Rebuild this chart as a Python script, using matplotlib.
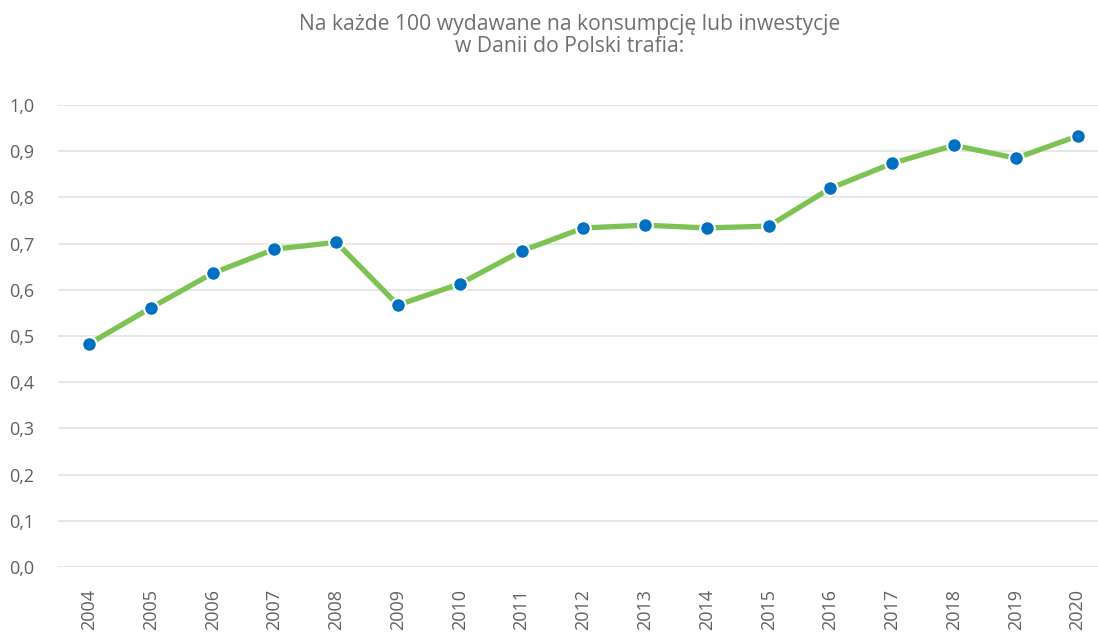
import numpy as np
from matplotlib import pyplot as plt

plt.rcParams['font.family'] = ['Open Sans', 'DejaVu Sans']

years = list(range(2004, 2021))
values = [0.483, 0.561, 0.636, 0.688, 0.703, 0.567, 0.613, 0.684, 0.734,
          0.740, 0.734, 0.738, 0.820, 0.874, 0.913, 0.885, 0.933]
yticks = [0.0, 0.1, 0.2, 0.3, 0.4, 0.5, 0.6, 0.7, 0.8, 0.9, 1.0]
title = "Na każde 100 wydawane na konsumpcję lub inwestycje\nw Danii do Polski trafia:"

grey = '#606060'

fig = plt.figure(figsize=(10.98, 6.37), dpi=100)
ax = fig.add_axes([0.053, 0.11, 0.947, 0.725])

ax.plot(years, values, color='#7DC354', lw=3.8, zorder=2,
        marker='o', ms=10.5, mfc='#0070C0', mec='white', mew=1.5)

ax.set_xlim(2003.5, 2020.33)
ax.set_ylim(0, 1.0)
ax.set_yticks(yticks)
ax.set_yticklabels([f"{v:.1f}".replace('.', ',') for v in yticks])
ax.set_xticks(years)
ax.set_xticklabels([str(y) for y in years], rotation=90)
ax.tick_params(length=0, colors=grey, labelsize=13)
ax.tick_params(axis='y', pad=17)
ax.tick_params(axis='x', pad=16)
ax.grid(axis='y', color='#e3e3e3', lw=1.2, zorder=0)
ax.set_axisbelow(True)
for s in ax.spines.values():
    s.set_visible(False)

fig.text(0.519, 0.978, title, ha='center', va='top', color='#707070',
         fontsize=15.2, linespacing=1.08)

fig.savefig('out.png', dpi=100)
